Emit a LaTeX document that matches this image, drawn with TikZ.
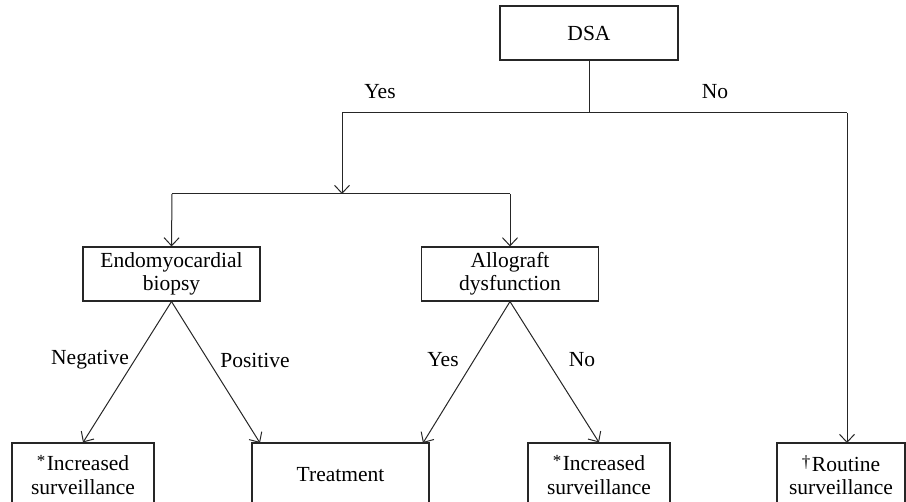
\documentclass[tikz,border=0pt]{standalone}
\usepackage{fontspec}
\setmainfont{Liberation Serif}
\usetikzlibrary{arrows.meta}
\newcommand{\supmark}[1]{{\fontsize{17}{17}\selectfont\raisebox{4pt}{#1}}\hspace{1.5pt}}
\begin{document}
\begin{tikzpicture}[x=1pt,y=-1pt,
  every node/.style={font=\fontsize{21.5}{23.5}\selectfont},
  box/.style={draw=black!85, line width=1.1pt, inner sep=0pt, align=center},
  conn/.style={draw=black!85, line width=1pt},
  arr/.style={draw=black!85, line width=1pt, -{Straight Barb[length=8pt,width=15pt]}},
  lbl/.style={inner sep=0pt}]
\useasboundingbox (0,0) rectangle (906,502);
\clip (0,0) rectangle (906,502);
% boxes
\node[box, minimum width=178pt, minimum height=54pt] (dsa) at (589,33) {DSA};
\node[box, minimum width=177pt, minimum height=54pt] (endo) at (171.5,274) {Endomyocardial\\biopsy};
\node[box, minimum width=177pt, minimum height=54pt] (allo) at (510,274) {Allograft\\dysfunction};
\node[box, minimum width=142pt, minimum height=64pt] (inc1) at (83,475) {\supmark{*}Increased\\surveillance};
\node[box, minimum width=177pt, minimum height=64pt] (treat) at (340.5,475) {Treatment};
\node[box, minimum width=142pt, minimum height=64pt] (inc2) at (599,475) {\supmark{*}Increased\\surveillance};
\node[box, minimum width=128pt, minimum height=64pt] (rout) at (841,475) {\supmark{\textdagger}Routine\\surveillance};
% junction coordinates
\coordinate (j1) at (589,113);
\coordinate (j1l) at (342,113);
\coordinate (j1r) at (847,113);
\coordinate (j2) at (342,194);
\coordinate (j2l) at (172,194);
\coordinate (j2r) at (510,194);
\coordinate (routin) at (847,443);
\coordinate (treatl) at (260,443);
\coordinate (treatr) at (423,443);
% connectors
\draw[conn] (dsa.south) -- (j1);
\draw[conn] (j1l) -- (j1r);
\draw[arr] (j1l) -- (j2);
\draw[arr] (j1r) -- (routin);
\draw[conn] (j2l) -- (j2r);
\draw[arr] (j2l) -- (endo.north);
\draw[arr] (j2r) -- (allo.north);
\draw[arr] (endo.south) -- (inc1.north);
\draw[arr] (endo.south) -- (treatl);
\draw[arr] (allo.south) -- (treatr);
\draw[arr] (allo.south) -- (inc2.north);
% labels
\node[lbl] (lyes1) at (380,92) {Yes};
\node[lbl] (lno1) at (715,92) {No};
\node[lbl] (lneg) at (90,360) {Negative};
\node[lbl] (lpos) at (255,360) {Positive};
\node[lbl] (lyes2) at (443,360) {Yes};
\node[lbl] (lno2) at (582,360) {No};
\end{tikzpicture}
\end{document}
